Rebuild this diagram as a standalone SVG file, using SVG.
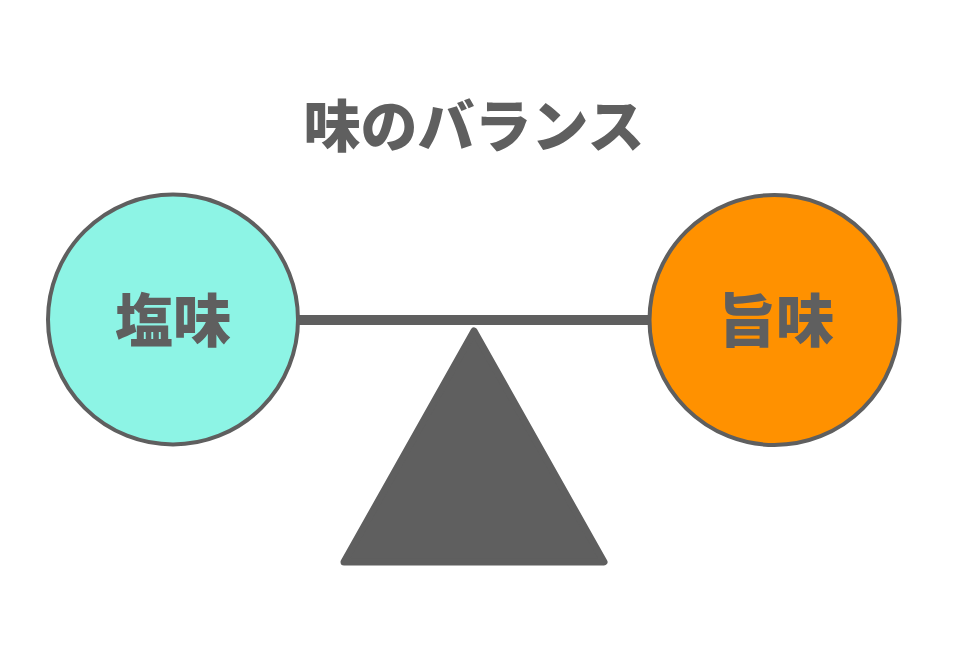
<svg xmlns="http://www.w3.org/2000/svg" width="978" height="662" viewBox="0 0 978 662">
<style>
.t{font-family:"Noto Sans CJK JP","Noto Sans CJK SC",sans-serif;font-weight:900;fill:#5f5f5f;text-anchor:middle}
.c{stroke:#5f5f5f;stroke-width:4}
</style>
<rect width="978" height="662" fill="#ffffff"/>
<g id="title"><text class="t" x="474" y="147" font-size="57">味のバランス</text></g>
<g id="connectors">
<line x1="298" y1="320" x2="650" y2="320" stroke="#5f5f5f" stroke-width="10"/>
</g>
<g id="fulcrum">
<path d="M474,331 L604,562 L344,562 Z" fill="#5f5f5f" stroke="#5f5f5f" stroke-width="7" stroke-linejoin="round"/>
</g>
<g id="salty">
<circle class="c" cx="173" cy="319.5" r="125" fill="#8df4e5"/>
<text class="t" x="173" y="342" font-size="58">塩味</text>
</g>
<g id="umami">
<circle class="c" cx="774.5" cy="320" r="125" fill="#ff9100"/>
<text class="t" x="776" y="342" font-size="58">旨味</text>
</g>
</svg>
